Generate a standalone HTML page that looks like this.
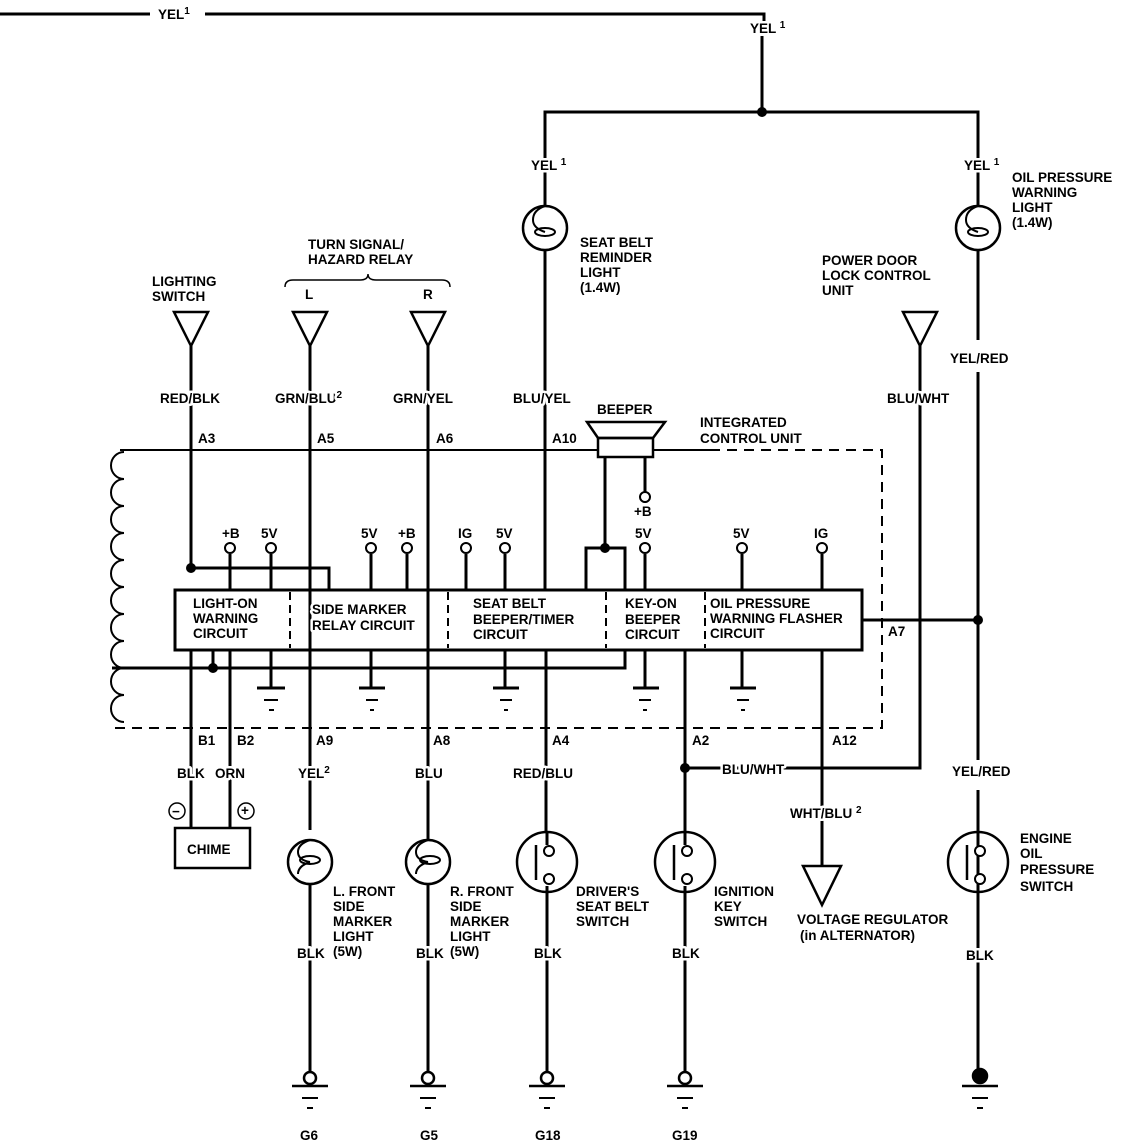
<!DOCTYPE html>
<html><head><meta charset="utf-8"><style>
html,body{margin:0;padding:0;background:#fff}
svg{display:block}
text{font-family:"Liberation Sans",sans-serif;font-weight:bold;font-size:13.5px;fill:#000;paint-order:stroke;stroke:#fff;stroke-width:5px;stroke-linejoin:round}
</style></head><body>
<svg width="1136" height="1142" viewBox="0 0 1136 1142" xmlns="http://www.w3.org/2000/svg">
<g stroke="#000" stroke-width="3" fill="none">
<path d="M0 14H150M205 14H764V22M762 36V112M545 206V112H978V206"/>
<path d="M545 250V590M978 250V340M978 372V760M978 790V1075"/>
<path d="M862 620H978"/>
<circle cx="545" cy="228" r="22" stroke-width="2.5"/>
<circle cx="978" cy="228" r="22" stroke-width="2.5"/>
<path d="M174 312H208L191 346Z M293 312H327L310 346Z M411 312H445L428 346Z M903 312H937L920 346Z" stroke-width="2.5"/>
<path d="M191 346V568M310 346V830M428 346V840M920 346V768H685"/>
<rect x="175" y="590" width="687" height="60"/>
<path d="M191 568H329V590" />
<path d="M230 554V590M271 554V590M371 554V590M407 554V590M466 554V590M505 554V590M645 554V590M742 554V590M822 554V590M645 503V457"/>
<path d="M586 590V548H625V590M605 548V457"/>
<path d="M191 650V828M230 650V828M213 650V668M112 668H625V650M271 650V688M371 650V688M505 650V688M645 650V688M742 650V688M546 650V832M685 650V832M822 650V865"/>
<path d="M310 884V1072M428 884V1072M547 892V1072M685 892V1072"/>
<path d="M257 688H285M359 688H385M493 688H519M633 688H659M730 688H756" stroke-width="3"/>
<path d="M264 700H278M366 700H378M500 700H512M639 700H651M737 700H749M269 710H274M370 710H374M504 710H508M643 710H647M741 710H745" stroke-width="2"/>
<path d="M120 450H598M653 450H710" stroke-width="2"/>
<path d="M710 450H882V728H112" stroke-width="2" stroke-dasharray="10 7"/>
<path d="M290 592V648M448 592V648M606 592V648M705 592V648" stroke-width="2" stroke-dasharray="8 5"/>
<path d="M124 452 a13 13.5 0 0 0 0 27 a13 13.5 0 0 0 0 27 a13 13.5 0 0 0 0 27 a13 13.5 0 0 0 0 27 a13 13.5 0 0 0 0 27 a13 13.5 0 0 0 0 27 a13 13.5 0 0 0 0 27 a13 13.5 0 0 0 0 27 a13 13.5 0 0 0 0 27 a13 13.5 0 0 0 0 27" stroke-width="2"/>
<path d="M587 422H665L653 438H598Z" stroke-width="2.5"/>
<rect x="598" y="438" width="55" height="19" stroke-width="2.5"/>
<g stroke-width="2" fill="#fff">
<circle cx="230" cy="548" r="5"/><circle cx="271" cy="548" r="5"/><circle cx="371" cy="548" r="5"/><circle cx="407" cy="548" r="5"/><circle cx="466" cy="548" r="5"/><circle cx="505" cy="548" r="5"/><circle cx="645" cy="548" r="5"/><circle cx="742" cy="548" r="5"/><circle cx="822" cy="548" r="5"/><circle cx="645" cy="497" r="5"/>
</g>
<rect x="175" y="828" width="75" height="40" stroke-width="2.5"/>
<circle cx="177" cy="811" r="8" stroke-width="1.5"/><circle cx="246" cy="811" r="8" stroke-width="1.5"/>
<circle cx="310" cy="862" r="22" stroke-width="2.5"/>
<circle cx="428" cy="862" r="22" stroke-width="2.5"/>
<path d="M310 840 q-12 4 -12 12 q0 8 12 10 M310 862 q-12 4 -12 12 M428 840 q-12 4 -12 12 q0 8 12 10 M428 862 q-12 4 -12 12" stroke-width="2"/>
<ellipse cx="310" cy="860" rx="10" ry="4" stroke-width="2"/><ellipse cx="430" cy="860" rx="10" ry="4" stroke-width="2"/>
<ellipse cx="545" cy="232" rx="10" ry="4" stroke-width="2"/><ellipse cx="978" cy="232" rx="10" ry="4" stroke-width="2"/>
<path d="M545 206 q-12 4 -12 14 q0 8 12 12 M978 206 q-12 4 -12 14 q0 8 12 12" stroke-width="2"/>
<circle cx="547" cy="862" r="30" stroke-width="2.5"/>
<circle cx="685" cy="862" r="30" stroke-width="2.5"/>
<circle cx="978" cy="862" r="30" stroke-width="2.5"/>
<path d="M536 845V880M674 845V880M967 845V880" stroke-width="2.5"/>
<path d="M547 832V845M547 886V892M685 832V845M685 886V892M978 832V845M978 886V892" />
<g stroke-width="2" fill="#fff"><circle cx="549" cy="851" r="5"/><circle cx="549" cy="879" r="5"/><circle cx="687" cy="851" r="5"/><circle cx="687" cy="879" r="5"/><circle cx="980" cy="851" r="5"/><circle cx="980" cy="879" r="5"/></g>
<path d="M803 866H841L822 905Z" stroke-width="2.5"/>
<g stroke-width="2.5">
<circle cx="310" cy="1078" r="6" fill="#fff"/><circle cx="428" cy="1078" r="6" fill="#fff"/><circle cx="547" cy="1078" r="6" fill="#fff"/><circle cx="685" cy="1078" r="6" fill="#fff"/><circle cx="980" cy="1076" r="7" fill="#000"/>
<path d="M292 1086H328M410 1086H446M529 1086H565M667 1086H703M962 1086H998"/>
</g>
<path d="M302 1098H318M420 1098H436M539 1098H555M677 1098H693M972 1098H988M307 1108H313M425 1108H431M544 1108H550M682 1108H688M977 1108H983" stroke-width="2"/>
<path d="M285 287 q0 -7 8 -7 H360 q8 0 8 -6 q0 6 8 6 H442 q8 0 8 7" stroke-width="1.5"/>
</g>
<g fill="#000"><circle cx="762" cy="112" r="5"/><circle cx="191" cy="568" r="5"/><circle cx="213" cy="668" r="5"/><circle cx="605" cy="548" r="5"/><circle cx="978" cy="620" r="5"/><circle cx="685" cy="768" r="5"/></g>
<text x="158" y="19">YEL<tspan dy="-5" font-size="10">1</tspan></text>
<text x="750" y="33">YEL <tspan dy="-5" font-size="10">1</tspan></text>
<text x="531" y="170">YEL <tspan dy="-5" font-size="10">1</tspan></text>
<text x="964" y="170">YEL <tspan dy="-5" font-size="10">1</tspan></text>
<text x="580" y="247">SEAT BELT</text><text x="580" y="262">REMINDER</text><text x="580" y="277">LIGHT</text><text x="580" y="292">(1.4W)</text>
<text x="1012" y="182">OIL PRESSURE</text><text x="1012" y="197">WARNING</text><text x="1012" y="212">LIGHT</text><text x="1012" y="227">(1.4W)</text>
<text x="308" y="249">TURN SIGNAL/</text><text x="308" y="264">HAZARD RELAY</text>
<text x="305" y="299">L</text><text x="423" y="299">R</text>
<text x="152" y="286">LIGHTING</text><text x="152" y="301">SWITCH</text>
<text x="822" y="265">POWER DOOR</text><text x="822" y="280">LOCK CONTROL</text><text x="822" y="295">UNIT</text>
<text x="160" y="403">RED/BLK</text>
<text x="275" y="403">GRN/BLU<tspan dy="-5" font-size="10">2</tspan></text>
<text x="393" y="403">GRN/YEL</text>
<text x="513" y="403">BLU/YEL</text>
<text x="887" y="403">BLU/WHT</text>
<text x="950" y="363">YEL/RED</text>
<text x="198" y="443">A3</text><text x="317" y="443">A5</text><text x="436" y="443">A6</text><text x="552" y="443">A10</text>
<text x="597" y="414">BEEPER</text>
<text x="700" y="427">INTEGRATED</text><text x="700" y="443">CONTROL UNIT</text>
<text x="634" y="516">+B</text>
<text x="222" y="538" font-size="12">+B</text><text x="261" y="538" font-size="12">5V</text><text x="361" y="538" font-size="12">5V</text><text x="398" y="538" font-size="12">+B</text><text x="458" y="538" font-size="12">IG</text><text x="496" y="538" font-size="12">5V</text><text x="635" y="538" font-size="12">5V</text><text x="733" y="538" font-size="12">5V</text><text x="814" y="538" font-size="12">IG</text>
<text x="193" y="608">LIGHT-ON</text><text x="193" y="623">WARNING</text><text x="193" y="638">CIRCUIT</text>
<text x="312" y="614">SIDE MARKER</text><text x="312" y="630">RELAY CIRCUIT</text>
<text x="473" y="608">SEAT BELT</text><text x="473" y="624">BEEPER/TIMER</text><text x="473" y="639">CIRCUIT</text>
<text x="625" y="608">KEY-ON</text><text x="625" y="624">BEEPER</text><text x="625" y="639">CIRCUIT</text>
<text x="710" y="608">OIL PRESSURE</text><text x="710" y="623">WARNING FLASHER</text><text x="710" y="638">CIRCUIT</text>
<text x="888" y="636">A7</text>
<text x="198" y="745">B1</text><text x="237" y="745">B2</text><text x="316" y="745">A9</text><text x="433" y="745">A8</text><text x="552" y="745">A4</text><text x="692" y="745">A2</text><text x="832" y="745">A12</text>
<text x="177" y="778">BLK</text><text x="215" y="778">ORN</text>
<text x="298" y="778">YEL<tspan dy="-5" font-size="10">2</tspan></text>
<text x="415" y="778">BLU</text><text x="513" y="778">RED/BLU</text>
<text x="722" y="774">BLU/WHT</text><text x="952" y="776">YEL/RED</text>
<text x="790" y="818">WHT/BLU <tspan dy="-5" font-size="10">2</tspan></text>
<text x="172" y="816" font-size="11" stroke-width="0">−</text><text x="241" y="815" font-size="11" stroke-width="0">+</text>
<text x="187" y="854">CHIME</text>
<text x="333" y="896">L. FRONT</text><text x="333" y="911">SIDE</text><text x="333" y="926">MARKER</text><text x="333" y="941">LIGHT</text><text x="333" y="956">(5W)</text>
<text x="450" y="896">R. FRONT</text><text x="450" y="911">SIDE</text><text x="450" y="926">MARKER</text><text x="450" y="941">LIGHT</text><text x="450" y="956">(5W)</text>
<text x="576" y="896">DRIVER'S</text><text x="576" y="911">SEAT BELT</text><text x="576" y="926">SWITCH</text>
<text x="714" y="896">IGNITION</text><text x="714" y="911">KEY</text><text x="714" y="926">SWITCH</text>
<text x="1020" y="843">ENGINE</text><text x="1020" y="858">OIL</text><text x="1020" y="874">PRESSURE</text><text x="1020" y="891">SWITCH</text>
<text x="797" y="924">VOLTAGE REGULATOR</text><text x="800" y="940">(in ALTERNATOR)</text>
<text x="297" y="958">BLK</text><text x="416" y="958">BLK</text><text x="534" y="958">BLK</text><text x="672" y="958">BLK</text><text x="966" y="960">BLK</text>
<text x="300" y="1140">G6</text><text x="420" y="1140">G5</text><text x="535" y="1140">G18</text><text x="672" y="1140">G19</text>
</svg>
</body></html>
